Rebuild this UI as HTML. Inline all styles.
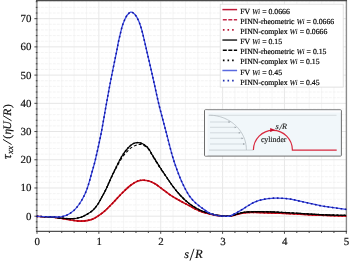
<!DOCTYPE html>
<html><head><meta charset="utf-8"><style>
html,body{margin:0;padding:0;background:#fff;}
svg{display:block;will-change:transform;}
text{font-family:"Liberation Serif",serif;text-rendering:geometricPrecision;}
</style></head><body>
<svg width="350" height="262" viewBox="0 0 350 262">
<rect x="0" y="0" width="350" height="262" fill="#fff"/>
<g><line x1="49.37" y1="0.60" x2="49.37" y2="231.40" stroke="#f0f0f0" stroke-width="0.7"/>
<line x1="61.74" y1="0.60" x2="61.74" y2="231.40" stroke="#f0f0f0" stroke-width="0.7"/>
<line x1="74.12" y1="0.60" x2="74.12" y2="231.40" stroke="#f0f0f0" stroke-width="0.7"/>
<line x1="86.49" y1="0.60" x2="86.49" y2="231.40" stroke="#f0f0f0" stroke-width="0.7"/>
<line x1="98.86" y1="0.60" x2="98.86" y2="231.40" stroke="#e2e2e2" stroke-width="0.8"/>
<line x1="111.23" y1="0.60" x2="111.23" y2="231.40" stroke="#f0f0f0" stroke-width="0.7"/>
<line x1="123.60" y1="0.60" x2="123.60" y2="231.40" stroke="#f0f0f0" stroke-width="0.7"/>
<line x1="135.98" y1="0.60" x2="135.98" y2="231.40" stroke="#f0f0f0" stroke-width="0.7"/>
<line x1="148.35" y1="0.60" x2="148.35" y2="231.40" stroke="#f0f0f0" stroke-width="0.7"/>
<line x1="160.72" y1="0.60" x2="160.72" y2="231.40" stroke="#e2e2e2" stroke-width="0.8"/>
<line x1="173.09" y1="0.60" x2="173.09" y2="231.40" stroke="#f0f0f0" stroke-width="0.7"/>
<line x1="185.46" y1="0.60" x2="185.46" y2="231.40" stroke="#f0f0f0" stroke-width="0.7"/>
<line x1="197.84" y1="0.60" x2="197.84" y2="231.40" stroke="#f0f0f0" stroke-width="0.7"/>
<line x1="210.21" y1="0.60" x2="210.21" y2="231.40" stroke="#f0f0f0" stroke-width="0.7"/>
<line x1="222.58" y1="0.60" x2="222.58" y2="231.40" stroke="#e2e2e2" stroke-width="0.8"/>
<line x1="234.95" y1="0.60" x2="234.95" y2="231.40" stroke="#f0f0f0" stroke-width="0.7"/>
<line x1="247.32" y1="0.60" x2="247.32" y2="231.40" stroke="#f0f0f0" stroke-width="0.7"/>
<line x1="259.70" y1="0.60" x2="259.70" y2="231.40" stroke="#f0f0f0" stroke-width="0.7"/>
<line x1="272.07" y1="0.60" x2="272.07" y2="231.40" stroke="#f0f0f0" stroke-width="0.7"/>
<line x1="284.44" y1="0.60" x2="284.44" y2="231.40" stroke="#e2e2e2" stroke-width="0.8"/>
<line x1="296.81" y1="0.60" x2="296.81" y2="231.40" stroke="#f0f0f0" stroke-width="0.7"/>
<line x1="309.18" y1="0.60" x2="309.18" y2="231.40" stroke="#f0f0f0" stroke-width="0.7"/>
<line x1="321.56" y1="0.60" x2="321.56" y2="231.40" stroke="#f0f0f0" stroke-width="0.7"/>
<line x1="333.93" y1="0.60" x2="333.93" y2="231.40" stroke="#f0f0f0" stroke-width="0.7"/>
<line x1="36.80" y1="227.49" x2="346.70" y2="227.49" stroke="#efefef" stroke-width="0.7" stroke-dasharray="3 1"/>
<line x1="36.80" y1="221.84" x2="346.70" y2="221.84" stroke="#efefef" stroke-width="0.7" stroke-dasharray="3 1"/>
<line x1="36.80" y1="216.20" x2="346.70" y2="216.20" stroke="#e6e6e6" stroke-width="1"/>
<line x1="36.80" y1="210.56" x2="346.70" y2="210.56" stroke="#efefef" stroke-width="0.7" stroke-dasharray="3 1"/>
<line x1="36.80" y1="204.91" x2="346.70" y2="204.91" stroke="#efefef" stroke-width="0.7" stroke-dasharray="3 1"/>
<line x1="36.80" y1="199.27" x2="346.70" y2="199.27" stroke="#efefef" stroke-width="0.7" stroke-dasharray="3 1"/>
<line x1="36.80" y1="193.62" x2="346.70" y2="193.62" stroke="#efefef" stroke-width="0.7" stroke-dasharray="3 1"/>
<line x1="36.80" y1="187.98" x2="346.70" y2="187.98" stroke="#e6e6e6" stroke-width="1"/>
<line x1="36.80" y1="182.34" x2="346.70" y2="182.34" stroke="#efefef" stroke-width="0.7" stroke-dasharray="3 1"/>
<line x1="36.80" y1="176.69" x2="346.70" y2="176.69" stroke="#efefef" stroke-width="0.7" stroke-dasharray="3 1"/>
<line x1="36.80" y1="171.05" x2="346.70" y2="171.05" stroke="#efefef" stroke-width="0.7" stroke-dasharray="3 1"/>
<line x1="36.80" y1="165.40" x2="346.70" y2="165.40" stroke="#efefef" stroke-width="0.7" stroke-dasharray="3 1"/>
<line x1="36.80" y1="159.76" x2="346.70" y2="159.76" stroke="#e6e6e6" stroke-width="1"/>
<line x1="36.80" y1="154.12" x2="346.70" y2="154.12" stroke="#efefef" stroke-width="0.7" stroke-dasharray="3 1"/>
<line x1="36.80" y1="148.47" x2="346.70" y2="148.47" stroke="#efefef" stroke-width="0.7" stroke-dasharray="3 1"/>
<line x1="36.80" y1="142.83" x2="346.70" y2="142.83" stroke="#efefef" stroke-width="0.7" stroke-dasharray="3 1"/>
<line x1="36.80" y1="137.18" x2="346.70" y2="137.18" stroke="#efefef" stroke-width="0.7" stroke-dasharray="3 1"/>
<line x1="36.80" y1="131.54" x2="346.70" y2="131.54" stroke="#e6e6e6" stroke-width="1"/>
<line x1="36.80" y1="125.90" x2="346.70" y2="125.90" stroke="#efefef" stroke-width="0.7" stroke-dasharray="3 1"/>
<line x1="36.80" y1="120.25" x2="346.70" y2="120.25" stroke="#efefef" stroke-width="0.7" stroke-dasharray="3 1"/>
<line x1="36.80" y1="114.61" x2="346.70" y2="114.61" stroke="#efefef" stroke-width="0.7" stroke-dasharray="3 1"/>
<line x1="36.80" y1="108.96" x2="346.70" y2="108.96" stroke="#efefef" stroke-width="0.7" stroke-dasharray="3 1"/>
<line x1="36.80" y1="103.32" x2="346.70" y2="103.32" stroke="#e6e6e6" stroke-width="1"/>
<line x1="36.80" y1="97.68" x2="346.70" y2="97.68" stroke="#efefef" stroke-width="0.7" stroke-dasharray="3 1"/>
<line x1="36.80" y1="92.03" x2="346.70" y2="92.03" stroke="#efefef" stroke-width="0.7" stroke-dasharray="3 1"/>
<line x1="36.80" y1="86.39" x2="346.70" y2="86.39" stroke="#efefef" stroke-width="0.7" stroke-dasharray="3 1"/>
<line x1="36.80" y1="80.74" x2="346.70" y2="80.74" stroke="#efefef" stroke-width="0.7" stroke-dasharray="3 1"/>
<line x1="36.80" y1="75.10" x2="346.70" y2="75.10" stroke="#e6e6e6" stroke-width="1"/>
<line x1="36.80" y1="69.46" x2="346.70" y2="69.46" stroke="#efefef" stroke-width="0.7" stroke-dasharray="3 1"/>
<line x1="36.80" y1="63.81" x2="346.70" y2="63.81" stroke="#efefef" stroke-width="0.7" stroke-dasharray="3 1"/>
<line x1="36.80" y1="58.17" x2="346.70" y2="58.17" stroke="#efefef" stroke-width="0.7" stroke-dasharray="3 1"/>
<line x1="36.80" y1="52.52" x2="346.70" y2="52.52" stroke="#efefef" stroke-width="0.7" stroke-dasharray="3 1"/>
<line x1="36.80" y1="46.88" x2="346.70" y2="46.88" stroke="#e6e6e6" stroke-width="1"/>
<line x1="36.80" y1="41.24" x2="346.70" y2="41.24" stroke="#efefef" stroke-width="0.7" stroke-dasharray="3 1"/>
<line x1="36.80" y1="35.59" x2="346.70" y2="35.59" stroke="#efefef" stroke-width="0.7" stroke-dasharray="3 1"/>
<line x1="36.80" y1="29.95" x2="346.70" y2="29.95" stroke="#efefef" stroke-width="0.7" stroke-dasharray="3 1"/>
<line x1="36.80" y1="24.30" x2="346.70" y2="24.30" stroke="#efefef" stroke-width="0.7" stroke-dasharray="3 1"/>
<line x1="36.80" y1="18.66" x2="346.70" y2="18.66" stroke="#e6e6e6" stroke-width="1"/>
<line x1="36.80" y1="13.02" x2="346.70" y2="13.02" stroke="#efefef" stroke-width="0.7" stroke-dasharray="3 1"/>
<line x1="36.80" y1="7.37" x2="346.70" y2="7.37" stroke="#efefef" stroke-width="0.7" stroke-dasharray="3 1"/>
<line x1="36.80" y1="1.73" x2="346.70" y2="1.73" stroke="#efefef" stroke-width="0.7" stroke-dasharray="3 1"/></g>
<line x1="36.8" y1="0" x2="36.8" y2="232" stroke="#9a9a9a" stroke-width="1.8"/>
<line x1="346.4" y1="0" x2="346.4" y2="232" stroke="#8c8c8c" stroke-width="1.4"/>
<line x1="36" y1="0.60" x2="347" y2="0.60" stroke="#4a4a4a" stroke-width="1.1"/>
<line x1="36" y1="231.40" x2="347" y2="231.40" stroke="#505050" stroke-width="1.3"/>
<g stroke="#333" stroke-width="0.9"><line x1="37.00" y1="231.40" x2="37.00" y2="233.80"/>
<line x1="49.37" y1="231.40" x2="49.37" y2="233.00"/>
<line x1="61.74" y1="231.40" x2="61.74" y2="233.00"/>
<line x1="74.12" y1="231.40" x2="74.12" y2="233.00"/>
<line x1="86.49" y1="231.40" x2="86.49" y2="233.00"/>
<line x1="98.86" y1="231.40" x2="98.86" y2="233.80"/>
<line x1="111.23" y1="231.40" x2="111.23" y2="233.00"/>
<line x1="123.60" y1="231.40" x2="123.60" y2="233.00"/>
<line x1="135.98" y1="231.40" x2="135.98" y2="233.00"/>
<line x1="148.35" y1="231.40" x2="148.35" y2="233.00"/>
<line x1="160.72" y1="231.40" x2="160.72" y2="233.80"/>
<line x1="173.09" y1="231.40" x2="173.09" y2="233.00"/>
<line x1="185.46" y1="231.40" x2="185.46" y2="233.00"/>
<line x1="197.84" y1="231.40" x2="197.84" y2="233.00"/>
<line x1="210.21" y1="231.40" x2="210.21" y2="233.00"/>
<line x1="222.58" y1="231.40" x2="222.58" y2="233.80"/>
<line x1="234.95" y1="231.40" x2="234.95" y2="233.00"/>
<line x1="247.32" y1="231.40" x2="247.32" y2="233.00"/>
<line x1="259.70" y1="231.40" x2="259.70" y2="233.00"/>
<line x1="272.07" y1="231.40" x2="272.07" y2="233.00"/>
<line x1="284.44" y1="231.40" x2="284.44" y2="233.80"/>
<line x1="296.81" y1="231.40" x2="296.81" y2="233.00"/>
<line x1="309.18" y1="231.40" x2="309.18" y2="233.00"/>
<line x1="321.56" y1="231.40" x2="321.56" y2="233.00"/>
<line x1="333.93" y1="231.40" x2="333.93" y2="233.00"/>
<line x1="346.30" y1="231.40" x2="346.30" y2="233.80"/>
<line x1="37.40" y1="227.49" x2="35.80" y2="227.49"/>
<line x1="37.40" y1="221.84" x2="35.80" y2="221.84"/>
<line x1="37.40" y1="216.20" x2="34.40" y2="216.20"/>
<line x1="37.40" y1="210.56" x2="35.80" y2="210.56"/>
<line x1="37.40" y1="204.91" x2="35.80" y2="204.91"/>
<line x1="37.40" y1="199.27" x2="35.80" y2="199.27"/>
<line x1="37.40" y1="193.62" x2="35.80" y2="193.62"/>
<line x1="37.40" y1="187.98" x2="34.40" y2="187.98"/>
<line x1="37.40" y1="182.34" x2="35.80" y2="182.34"/>
<line x1="37.40" y1="176.69" x2="35.80" y2="176.69"/>
<line x1="37.40" y1="171.05" x2="35.80" y2="171.05"/>
<line x1="37.40" y1="165.40" x2="35.80" y2="165.40"/>
<line x1="37.40" y1="159.76" x2="34.40" y2="159.76"/>
<line x1="37.40" y1="154.12" x2="35.80" y2="154.12"/>
<line x1="37.40" y1="148.47" x2="35.80" y2="148.47"/>
<line x1="37.40" y1="142.83" x2="35.80" y2="142.83"/>
<line x1="37.40" y1="137.18" x2="35.80" y2="137.18"/>
<line x1="37.40" y1="131.54" x2="34.40" y2="131.54"/>
<line x1="37.40" y1="125.90" x2="35.80" y2="125.90"/>
<line x1="37.40" y1="120.25" x2="35.80" y2="120.25"/>
<line x1="37.40" y1="114.61" x2="35.80" y2="114.61"/>
<line x1="37.40" y1="108.96" x2="35.80" y2="108.96"/>
<line x1="37.40" y1="103.32" x2="34.40" y2="103.32"/>
<line x1="37.40" y1="97.68" x2="35.80" y2="97.68"/>
<line x1="37.40" y1="92.03" x2="35.80" y2="92.03"/>
<line x1="37.40" y1="86.39" x2="35.80" y2="86.39"/>
<line x1="37.40" y1="80.74" x2="35.80" y2="80.74"/>
<line x1="37.40" y1="75.10" x2="34.40" y2="75.10"/>
<line x1="37.40" y1="69.46" x2="35.80" y2="69.46"/>
<line x1="37.40" y1="63.81" x2="35.80" y2="63.81"/>
<line x1="37.40" y1="58.17" x2="35.80" y2="58.17"/>
<line x1="37.40" y1="52.52" x2="35.80" y2="52.52"/>
<line x1="37.40" y1="46.88" x2="34.40" y2="46.88"/>
<line x1="37.40" y1="41.24" x2="35.80" y2="41.24"/>
<line x1="37.40" y1="35.59" x2="35.80" y2="35.59"/>
<line x1="37.40" y1="29.95" x2="35.80" y2="29.95"/>
<line x1="37.40" y1="24.30" x2="35.80" y2="24.30"/>
<line x1="37.40" y1="18.66" x2="34.40" y2="18.66"/>
<line x1="37.40" y1="13.02" x2="35.80" y2="13.02"/>
<line x1="37.40" y1="7.37" x2="35.80" y2="7.37"/>
<line x1="37.40" y1="1.73" x2="35.80" y2="1.73"/></g>
<g><path d="M37.00 216.40C39.00 216.48 45.67 216.70 49.00 216.90C52.33 217.10 54.67 217.32 57.00 217.60C59.33 217.88 61.00 218.27 63.00 218.60C65.00 218.93 67.00 219.27 69.00 219.60C71.00 219.93 73.00 220.35 75.00 220.60C77.00 220.85 79.00 221.10 81.00 221.10C83.00 221.10 85.00 220.95 87.00 220.60C89.00 220.25 91.00 219.87 93.00 219.00C95.00 218.13 97.17 216.63 99.00 215.40C100.83 214.17 102.50 212.85 104.00 211.60C105.50 210.35 106.67 209.20 108.00 207.90C109.33 206.60 110.83 205.02 112.00 203.80C113.17 202.58 113.17 202.53 115.00 200.60C116.83 198.67 120.33 194.80 123.00 192.20C125.67 189.60 128.50 186.88 131.00 185.00C133.50 183.12 135.92 181.70 138.00 180.90C140.08 180.10 141.67 180.18 143.50 180.20C145.33 180.22 147.08 180.40 149.00 181.00C150.92 181.60 152.83 182.50 155.00 183.80C157.17 185.10 159.50 186.97 162.00 188.80C164.50 190.63 167.00 192.80 170.00 194.80C173.00 196.80 176.67 198.93 180.00 200.80C183.33 202.67 187.33 204.57 190.00 206.00C192.67 207.43 194.00 208.40 196.00 209.40C198.00 210.40 199.67 211.23 202.00 212.00C204.33 212.77 207.33 213.40 210.00 214.00C212.67 214.60 215.33 215.23 218.00 215.60C220.67 215.97 223.83 216.13 226.00 216.20C228.17 216.27 229.33 216.23 231.00 216.00C232.67 215.77 234.17 215.27 236.00 214.80C237.83 214.33 239.67 213.60 242.00 213.20C244.33 212.80 247.00 212.50 250.00 212.40C253.00 212.30 255.00 212.47 260.00 212.60C265.00 212.73 273.33 212.93 280.00 213.20C286.67 213.47 293.33 213.85 300.00 214.20C306.67 214.55 312.33 215.00 320.00 215.30C327.67 215.60 341.67 215.88 346.00 216.00" fill="none" stroke="#d8121e" stroke-width="1.6" stroke-linejoin="round" />
<path d="M37.00 216.40C39.00 216.48 45.67 216.70 49.00 216.90C52.33 217.10 54.67 217.32 57.00 217.60C59.33 217.88 61.00 218.27 63.00 218.60C65.00 218.93 67.00 219.27 69.00 219.60C71.00 219.93 73.00 220.35 75.00 220.60C77.00 220.85 79.00 221.10 81.00 221.10C83.00 221.10 85.00 220.95 87.00 220.60C89.00 220.25 91.00 219.87 93.00 219.00C95.00 218.13 97.17 216.63 99.00 215.40C100.83 214.17 102.50 212.85 104.00 211.60C105.50 210.35 106.67 209.20 108.00 207.90C109.33 206.60 110.83 205.02 112.00 203.80C113.17 202.58 113.17 202.53 115.00 200.60C116.83 198.67 120.33 194.80 123.00 192.20C125.67 189.60 128.50 186.88 131.00 185.00C133.50 183.12 135.92 181.70 138.00 180.90C140.08 180.10 141.67 180.18 143.50 180.20C145.33 180.22 147.08 180.40 149.00 181.00C150.92 181.60 152.83 182.50 155.00 183.80C157.17 185.10 159.50 186.97 162.00 188.80C164.50 190.63 167.00 192.80 170.00 194.80C173.00 196.80 176.67 198.93 180.00 200.80C183.33 202.67 187.33 204.57 190.00 206.00C192.67 207.43 194.00 208.40 196.00 209.40C198.00 210.40 199.67 211.23 202.00 212.00C204.33 212.77 207.33 213.40 210.00 214.00C212.67 214.60 215.33 215.23 218.00 215.60C220.67 215.97 223.83 216.13 226.00 216.20C228.17 216.27 229.33 216.23 231.00 216.00C232.67 215.77 234.17 215.27 236.00 214.80C237.83 214.33 239.67 213.60 242.00 213.20C244.33 212.80 247.00 212.50 250.00 212.40C253.00 212.30 255.00 212.47 260.00 212.60C265.00 212.73 273.33 212.93 280.00 213.20C286.67 213.47 293.33 213.85 300.00 214.20C306.67 214.55 312.33 215.00 320.00 215.30C327.67 215.60 341.67 215.88 346.00 216.00" fill="none" stroke="#d8121e" stroke-width="1.2" stroke-dasharray="3 2" stroke-linejoin="round" />
<path d="M37.00 216.40C39.00 216.48 45.67 216.70 49.00 216.90C52.33 217.10 54.67 217.32 57.00 217.60C59.33 217.88 61.00 218.27 63.00 218.60C65.00 218.93 67.00 219.27 69.00 219.60C71.00 219.93 73.00 220.35 75.00 220.60C77.00 220.85 79.00 221.10 81.00 221.10C83.00 221.10 85.00 220.95 87.00 220.60C89.00 220.25 91.00 219.87 93.00 219.00C95.00 218.13 97.17 216.63 99.00 215.40C100.83 214.17 102.50 212.85 104.00 211.60C105.50 210.35 106.67 209.20 108.00 207.90C109.33 206.60 110.83 205.02 112.00 203.80C113.17 202.58 113.17 202.53 115.00 200.60C116.83 198.67 120.33 194.80 123.00 192.20C125.67 189.60 128.50 186.88 131.00 185.00C133.50 183.12 135.92 181.70 138.00 180.90C140.08 180.10 141.67 180.18 143.50 180.20C145.33 180.22 147.08 180.40 149.00 181.00C150.92 181.60 152.83 182.50 155.00 183.80C157.17 185.10 159.50 186.97 162.00 188.80C164.50 190.63 167.00 192.80 170.00 194.80C173.00 196.80 176.67 198.93 180.00 200.80C183.33 202.67 187.33 204.57 190.00 206.00C192.67 207.43 194.00 208.40 196.00 209.40C198.00 210.40 199.67 211.23 202.00 212.00C204.33 212.77 207.33 213.40 210.00 214.00C212.67 214.60 215.33 215.23 218.00 215.60C220.67 215.97 223.83 216.13 226.00 216.20C228.17 216.27 229.33 216.23 231.00 216.00C232.67 215.77 234.17 215.27 236.00 214.80C237.83 214.33 239.67 213.60 242.00 213.20C244.33 212.80 247.00 212.50 250.00 212.40C253.00 212.30 255.00 212.47 260.00 212.60C265.00 212.73 273.33 212.93 280.00 213.20C286.67 213.47 293.33 213.85 300.00 214.20C306.67 214.55 312.33 215.00 320.00 215.30C327.67 215.60 341.67 215.88 346.00 216.00" fill="none" stroke="#9c0414" stroke-width="1.5" stroke-dasharray="0.5 3.2" stroke-linejoin="round" stroke-linecap="round"/>
<path d="M37.00 216.40C39.00 216.48 45.67 216.70 49.00 216.90C52.33 217.10 54.67 217.37 57.00 217.60C59.33 217.83 61.00 218.12 63.00 218.30C65.00 218.48 67.00 218.67 69.00 218.70C71.00 218.73 73.00 218.75 75.00 218.50C77.00 218.25 79.00 217.90 81.00 217.20C83.00 216.50 85.00 215.48 87.00 214.30C89.00 213.12 91.17 211.82 93.00 210.10C94.83 208.38 96.50 206.22 98.00 204.00C99.50 201.78 100.67 199.27 102.00 196.80C103.33 194.33 104.50 192.33 106.00 189.20C107.50 186.07 109.33 181.62 111.00 178.00C112.67 174.38 114.17 171.17 116.00 167.50C117.83 163.83 120.00 159.25 122.00 156.00C124.00 152.75 126.17 150.03 128.00 148.00C129.83 145.97 131.37 144.70 133.00 143.80C134.63 142.90 136.20 142.60 137.80 142.60C139.40 142.60 140.90 142.92 142.60 143.80C144.30 144.68 146.27 145.87 148.00 147.90C149.73 149.93 151.00 152.77 153.00 156.00C155.00 159.23 157.75 163.80 160.00 167.30C162.25 170.80 164.42 173.92 166.50 177.00C168.58 180.08 170.25 182.80 172.50 185.80C174.75 188.80 177.42 192.20 180.00 195.00C182.58 197.80 185.33 200.43 188.00 202.60C190.67 204.77 193.67 206.60 196.00 208.00C198.33 209.40 199.67 210.07 202.00 211.00C204.33 211.93 207.33 212.87 210.00 213.60C212.67 214.33 215.33 214.98 218.00 215.40C220.67 215.82 223.83 216.03 226.00 216.10C228.17 216.17 229.33 216.08 231.00 215.80C232.67 215.52 234.17 214.93 236.00 214.40C237.83 213.87 239.67 213.03 242.00 212.60C244.33 212.17 247.00 211.95 250.00 211.80C253.00 211.65 256.67 211.70 260.00 211.70C263.33 211.70 266.67 211.70 270.00 211.80C273.33 211.90 275.00 212.03 280.00 212.30C285.00 212.57 293.33 213.02 300.00 213.40C306.67 213.78 312.33 214.27 320.00 214.60C327.67 214.93 341.67 215.27 346.00 215.40" fill="none" stroke="#000" stroke-width="1.2" stroke-linejoin="round" />
<path d="M37.00 216.40C39.00 216.48 45.67 216.70 49.00 216.90C52.33 217.10 54.67 217.37 57.00 217.60C59.33 217.83 61.00 218.12 63.00 218.30C65.00 218.48 67.00 218.67 69.00 218.70C71.00 218.73 73.00 218.75 75.00 218.50C77.00 218.25 79.00 217.90 81.00 217.20C83.00 216.50 85.00 215.48 87.00 214.30C89.00 213.12 91.17 211.82 93.00 210.11C94.83 208.39 96.50 206.23 98.00 204.02C99.50 201.82 100.67 199.31 102.00 196.87C103.33 194.42 104.50 192.44 106.00 189.36C107.50 186.29 109.33 181.92 111.00 178.42C112.67 174.93 114.17 171.85 116.00 168.41C117.83 164.96 120.00 160.72 122.00 157.75C124.00 154.77 126.17 152.40 128.00 150.55C129.83 148.70 131.37 147.62 133.00 146.65C134.63 145.68 136.20 145.02 137.80 144.71C139.40 144.41 140.90 144.18 142.60 144.84C144.30 145.50 146.27 146.66 148.00 148.66C149.73 150.65 151.00 153.60 153.00 156.81C155.00 160.01 157.75 164.47 160.00 167.87C162.25 171.27 164.42 174.23 166.50 177.23C168.58 180.22 170.25 182.89 172.50 185.86C174.75 188.82 177.42 192.21 180.00 195.01C182.58 197.80 185.33 200.43 188.00 202.60C190.67 204.77 193.67 206.60 196.00 208.00C198.33 209.40 199.67 210.07 202.00 211.00C204.33 211.93 207.33 212.87 210.00 213.60C212.67 214.33 215.33 214.98 218.00 215.40C220.67 215.82 223.83 216.03 226.00 216.10C228.17 216.17 229.33 216.08 231.00 215.80C232.67 215.52 234.17 214.93 236.00 214.40C237.83 213.87 239.67 213.03 242.00 212.60C244.33 212.17 247.00 211.95 250.00 211.80C253.00 211.65 256.67 211.70 260.00 211.70C263.33 211.70 266.67 211.70 270.00 211.80C273.33 211.90 275.00 212.03 280.00 212.30C285.00 212.57 293.33 213.02 300.00 213.40C306.67 213.78 312.33 214.27 320.00 214.60C327.67 214.93 341.67 215.27 346.00 215.40" fill="none" stroke="#000" stroke-width="1.1" stroke-dasharray="3 2" stroke-linejoin="round" />
<path d="M37.00 216.40C39.00 216.48 45.67 216.70 49.00 216.90C52.33 217.10 54.67 217.37 57.00 217.60C59.33 217.83 61.00 218.12 63.00 218.30C65.00 218.48 67.00 218.67 69.00 218.70C71.00 218.73 73.00 218.75 75.00 218.50C77.00 218.25 79.00 217.90 81.00 217.20C83.00 216.50 85.00 215.48 87.00 214.30C89.00 213.12 91.17 211.82 93.00 210.10C94.83 208.38 96.50 206.22 98.00 204.00C99.50 201.78 100.67 199.27 102.00 196.80C103.33 194.33 104.50 192.33 106.00 189.20C107.50 186.07 109.33 181.62 111.00 178.00C112.67 174.38 114.17 171.17 116.00 167.50C117.83 163.83 120.00 159.25 122.00 156.00C124.00 152.75 126.17 150.03 128.00 148.00C129.83 145.97 131.37 144.70 133.00 143.80C134.63 142.90 136.20 142.60 137.80 142.60C139.40 142.60 140.90 142.92 142.60 143.80C144.30 144.68 146.27 145.87 148.00 147.90C149.73 149.93 151.00 152.77 153.00 156.00C155.00 159.23 157.75 163.80 160.00 167.30C162.25 170.80 164.42 173.92 166.50 177.00C168.58 180.08 170.25 182.80 172.50 185.80C174.75 188.80 177.42 192.20 180.00 195.00C182.58 197.80 185.33 200.43 188.00 202.60C190.67 204.77 193.67 206.60 196.00 208.00C198.33 209.40 199.67 210.07 202.00 211.00C204.33 211.93 207.33 212.87 210.00 213.60C212.67 214.33 215.33 214.98 218.00 215.40C220.67 215.82 223.83 216.03 226.00 216.10C228.17 216.17 229.33 216.08 231.00 215.80C232.67 215.52 234.17 214.93 236.00 214.40C237.83 213.87 239.67 213.03 242.00 212.60C244.33 212.17 247.00 211.95 250.00 211.80C253.00 211.65 256.67 211.70 260.00 211.70C263.33 211.70 266.67 211.70 270.00 211.80C273.33 211.90 275.00 212.03 280.00 212.30C285.00 212.57 293.33 213.02 300.00 213.40C306.67 213.78 312.33 214.27 320.00 214.60C327.67 214.93 341.67 215.27 346.00 215.40" fill="none" stroke="#000" stroke-width="1.5" stroke-dasharray="0.5 3.2" stroke-linejoin="round" stroke-linecap="round"/>
<path d="M37.00 216.40C39.00 216.47 45.67 216.70 49.00 216.80C52.33 216.90 54.67 217.07 57.00 217.00C59.33 216.93 61.00 216.90 63.00 216.40C65.00 215.90 67.00 215.17 69.00 214.00C71.00 212.83 73.17 211.23 75.00 209.40C76.83 207.57 78.50 205.23 80.00 203.00C81.50 200.77 82.83 198.33 84.00 196.00C85.17 193.67 86.08 191.50 87.00 189.00C87.92 186.50 88.67 183.83 89.50 181.00C90.33 178.17 91.03 175.50 92.00 172.00C92.97 168.50 93.80 166.33 95.30 160.00C96.80 153.67 99.22 143.00 101.00 134.00C102.78 125.00 104.33 115.17 106.00 106.00C107.67 96.83 109.25 88.00 111.00 79.00C112.75 70.00 115.27 58.17 116.50 52.00C117.73 45.83 117.77 45.00 118.40 42.00C119.03 39.00 119.65 36.67 120.30 34.00C120.95 31.33 121.55 28.42 122.30 26.00C123.05 23.58 123.97 21.33 124.80 19.50C125.63 17.67 126.33 16.22 127.30 15.00C128.27 13.78 129.50 12.47 130.60 12.20C131.70 11.93 132.87 12.57 133.90 13.40C134.93 14.23 135.83 15.52 136.80 17.20C137.77 18.88 138.78 21.03 139.70 23.50C140.62 25.97 141.47 28.92 142.30 32.00C143.13 35.08 143.92 38.67 144.70 42.00C145.48 45.33 145.62 46.00 147.00 52.00C148.38 58.00 151.03 69.33 153.00 78.00C154.97 86.67 156.70 95.33 158.80 104.00C160.90 112.67 163.33 121.33 165.60 130.00C167.87 138.67 170.37 149.00 172.40 156.00C174.43 163.00 176.07 167.33 177.80 172.00C179.53 176.67 180.93 180.10 182.80 184.00C184.67 187.90 186.97 192.33 189.00 195.40C191.03 198.47 192.83 200.30 195.00 202.40C197.17 204.50 199.50 206.17 202.00 208.00C204.50 209.83 207.33 212.13 210.00 213.40C212.67 214.67 215.67 215.13 218.00 215.60C220.33 216.07 222.00 216.13 224.00 216.20C226.00 216.27 228.00 216.53 230.00 216.00C232.00 215.47 234.00 214.07 236.00 213.00C238.00 211.93 240.00 210.80 242.00 209.60C244.00 208.40 246.00 207.00 248.00 205.80C250.00 204.60 252.00 203.33 254.00 202.40C256.00 201.47 257.67 200.83 260.00 200.20C262.33 199.57 265.33 198.95 268.00 198.60C270.67 198.25 273.33 198.13 276.00 198.10C278.67 198.07 281.33 198.20 284.00 198.40C286.67 198.60 289.33 198.83 292.00 199.30C294.67 199.77 297.00 200.52 300.00 201.20C303.00 201.88 306.67 202.67 310.00 203.40C313.33 204.13 316.67 204.97 320.00 205.60C323.33 206.23 325.67 206.57 330.00 207.20C334.33 207.83 343.33 209.03 346.00 209.40" fill="none" stroke="#3a4ee6" stroke-width="1.3" stroke-linejoin="round" />
<path d="M37.00 216.40C39.00 216.47 45.67 216.70 49.00 216.80C52.33 216.90 54.67 217.07 57.00 217.00C59.33 216.93 61.00 216.90 63.00 216.40C65.00 215.90 67.00 215.17 69.00 214.00C71.00 212.83 73.17 211.23 75.00 209.40C76.83 207.57 78.50 205.23 80.00 203.00C81.50 200.77 82.83 198.33 84.00 196.00C85.17 193.67 86.08 191.50 87.00 189.00C87.92 186.50 88.67 183.83 89.50 181.00C90.33 178.17 91.03 175.50 92.00 172.00C92.97 168.50 93.80 166.33 95.30 160.00C96.80 153.67 99.22 143.00 101.00 134.00C102.78 125.00 104.33 115.17 106.00 106.00C107.67 96.83 109.25 88.00 111.00 79.00C112.75 70.00 115.27 58.17 116.50 52.00C117.73 45.83 117.77 45.00 118.40 42.00C119.03 39.00 119.65 36.67 120.30 34.00C120.95 31.33 121.55 28.42 122.30 26.00C123.05 23.58 123.97 21.33 124.80 19.50C125.63 17.67 126.33 16.22 127.30 15.00C128.27 13.78 129.50 12.47 130.60 12.20C131.70 11.93 132.87 12.57 133.90 13.40C134.93 14.23 135.83 15.52 136.80 17.20C137.77 18.88 138.78 21.03 139.70 23.50C140.62 25.97 141.47 28.92 142.30 32.00C143.13 35.08 143.92 38.67 144.70 42.00C145.48 45.33 145.62 46.00 147.00 52.00C148.38 58.00 151.03 69.33 153.00 78.00C154.97 86.67 156.70 95.33 158.80 104.00C160.90 112.67 163.33 121.33 165.60 130.00C167.87 138.67 170.37 149.00 172.40 156.00C174.43 163.00 176.07 167.33 177.80 172.00C179.53 176.67 180.93 180.10 182.80 184.00C184.67 187.90 186.97 192.33 189.00 195.40C191.03 198.47 192.83 200.30 195.00 202.40C197.17 204.50 199.50 206.17 202.00 208.00C204.50 209.83 207.33 212.13 210.00 213.40C212.67 214.67 215.67 215.13 218.00 215.60C220.33 216.07 222.00 216.13 224.00 216.20C226.00 216.27 228.00 216.53 230.00 216.00C232.00 215.47 234.00 214.07 236.00 213.00C238.00 211.93 240.00 210.80 242.00 209.60C244.00 208.40 246.00 207.00 248.00 205.80C250.00 204.60 252.00 203.33 254.00 202.40C256.00 201.47 257.67 200.83 260.00 200.20C262.33 199.57 265.33 198.95 268.00 198.60C270.67 198.25 273.33 198.13 276.00 198.10C278.67 198.07 281.33 198.20 284.00 198.40C286.67 198.60 289.33 198.83 292.00 199.30C294.67 199.77 297.00 200.52 300.00 201.20C303.00 201.88 306.67 202.67 310.00 203.40C313.33 204.13 316.67 204.97 320.00 205.60C323.33 206.23 325.67 206.57 330.00 207.20C334.33 207.83 343.33 209.03 346.00 209.40" fill="none" stroke="#1818a0" stroke-width="1.6" stroke-dasharray="0.5 3.8" stroke-linejoin="round" stroke-linecap="round"/></g>
<g font-size="10.9" fill="#111" stroke="#111" stroke-width="0.2"><text x="37.30" y="245.2" text-anchor="middle">0</text>
<text x="99.16" y="245.2" text-anchor="middle">1</text>
<text x="161.02" y="245.2" text-anchor="middle">2</text>
<text x="222.88" y="245.2" text-anchor="middle">3</text>
<text x="284.74" y="245.2" text-anchor="middle">4</text>
<text x="346.60" y="245.2" text-anchor="middle">5</text>
<text x="31.4" y="219.70" text-anchor="end">0</text>
<text x="31.4" y="191.48" text-anchor="end">10</text>
<text x="31.4" y="163.26" text-anchor="end">20</text>
<text x="31.4" y="135.04" text-anchor="end">30</text>
<text x="31.4" y="106.82" text-anchor="end">40</text>
<text x="31.4" y="78.60" text-anchor="end">50</text>
<text x="31.4" y="50.38" text-anchor="end">60</text>
<text x="31.4" y="22.16" text-anchor="end">70</text></g>
<text y="258.2" font-size="12.4" fill="#111" stroke="#111" stroke-width="0.2"><tspan x="184.3" font-size="12" font-style="italic">s</tspan><tspan x="195.0" font-size="12.6" font-style="italic">R</tspan></text>
<line x1="194.0" y1="248.8" x2="190.0" y2="260.6" stroke="#111" stroke-width="0.95"/>
<text transform="translate(10.7 0) rotate(-90)" font-size="11.4" fill="#111" stroke="#111" stroke-width="0.22"><tspan x="-159.0" y="0" font-size="13" font-style="italic">τ</tspan><tspan x="-153.9" y="2.6" font-size="8.8" font-style="italic">xx</tspan><tspan x="-138.8" y="0">(</tspan><tspan x="-134.6" y="0" font-style="italic">η</tspan><tspan x="-129.4" y="0" font-style="italic">U</tspan><tspan x="-115.8" y="0" font-style="italic">R</tspan><tspan x="-108" y="0">)</tspan></text>
<line x1="3.0" y1="139.4" x2="11.6" y2="144.6" stroke="#111" stroke-width="0.95"/>
<line x1="3.0" y1="115.6" x2="11.6" y2="120.8" stroke="#111" stroke-width="0.95"/>
<rect x="220.2" y="4.2" width="123" height="82.9" fill="#fff" stroke="#dadada" stroke-width="0.8"/>
<g font-size="7.75" fill="#000" stroke="#000" stroke-width="0.18"><line x1="222.4" y1="9.60" x2="237.1" y2="9.60" stroke="#c01838" stroke-width="1.5"/>
<text x="240.3" y="13.80">FV <tspan font-style="italic" stroke-width="0.05">Wi</tspan> = 0.0666</text>
<line x1="222.8" y1="19.75" x2="237.1" y2="19.75" stroke="#c42a4a" stroke-width="1.6" stroke-dasharray="4 1.5"/>
<text x="240.3" y="23.92">PINN-rheometric <tspan font-style="italic" stroke-width="0.05">Wi</tspan> = 0.0666</text>
<line x1="222.9" y1="29.90" x2="236.0" y2="29.90" stroke="#b81838" stroke-width="1.8" stroke-dasharray="1.6 3"/>
<text x="240.3" y="34.04">PINN-complex <tspan font-style="italic" stroke-width="0.05">Wi</tspan> = 0.0666</text>
<line x1="222.4" y1="40.05" x2="237.1" y2="40.05" stroke="#222" stroke-width="1.5"/>
<text x="240.3" y="44.16">FV <tspan font-style="italic" stroke-width="0.05">Wi</tspan> = 0.15</text>
<line x1="222.8" y1="50.20" x2="237.1" y2="50.20" stroke="#000" stroke-width="1.6" stroke-dasharray="4 1.5"/>
<text x="240.3" y="54.28">PINN-rheometric <tspan font-style="italic" stroke-width="0.05">Wi</tspan> = 0.15</text>
<line x1="222.9" y1="60.35" x2="236.0" y2="60.35" stroke="#000" stroke-width="1.8" stroke-dasharray="1.6 3"/>
<text x="240.3" y="64.40">PINN-complex <tspan font-style="italic" stroke-width="0.05">Wi</tspan> = 0.15</text>
<line x1="222.4" y1="70.50" x2="237.1" y2="70.50" stroke="#5a6ae0" stroke-width="1.5"/>
<text x="240.3" y="74.52">FV <tspan font-style="italic" stroke-width="0.05">Wi</tspan> = 0.45</text>
<line x1="222.9" y1="80.65" x2="236.0" y2="80.65" stroke="#2030b0" stroke-width="1.8" stroke-dasharray="1.6 3"/>
<text x="240.3" y="84.64">PINN-complex <tspan font-style="italic" stroke-width="0.05">Wi</tspan> = 0.45</text></g>
<g><rect x="204.5" y="109.8" width="136.9" height="46.3" rx="0.8" fill="#f1f7fa" stroke="#6e6e6e" stroke-width="1"/>
<rect x="205.2" y="110.5" width="135.5" height="2" fill="#fbfcfd"/>
<rect x="205.2" y="110.5" width="2.3" height="45" fill="#fbfcfd"/>
<line x1="208.5" y1="115.3" x2="336.5" y2="115.3" stroke="#cfd5d9" stroke-width="0.8"/>
<path d="M209.20 115.20 L210.66 115.23 L212.12 115.31 L213.57 115.44 L215.02 115.63 L216.46 115.87 L217.88 116.16 L219.30 116.51 L220.70 116.90 L222.08 117.35 L223.44 117.85 L224.77 118.40 L226.09 118.99 L227.38 119.64 L228.64 120.33 L229.87 121.06 L231.07 121.85 L232.23 122.67 L233.36 123.54 L234.45 124.45 L235.50 125.39 L236.52 126.38 L237.49 127.40 L238.41 128.46 L239.30 129.55 L240.13 130.67 L240.92 131.82 L241.66 133.00 L242.35 134.20 L242.98 135.43 L243.57 136.68 L244.10 137.96 L244.58 139.25 L245.00 140.55 L245.37 141.88 L245.69 143.21 L245.94 144.56 L246.14 145.91 L246.29 147.27 L246.37 148.63 L246.40 150.00" fill="none" stroke="#b4bbc0" stroke-width="0.8"/>
<line x1="210" y1="122.00" x2="230.09" y2="122.00" stroke="#cad2d7" stroke-width="0.8"/>
<path d="M230.49 122.00 l-2 -0.9 v1.8 z" fill="#9aa2a8"/>
<line x1="210" y1="127.30" x2="236.20" y2="127.30" stroke="#cad2d7" stroke-width="0.8"/>
<path d="M236.60 127.30 l-2 -0.9 v1.8 z" fill="#9aa2a8"/>
<line x1="210" y1="132.80" x2="240.34" y2="132.80" stroke="#cad2d7" stroke-width="0.8"/>
<path d="M240.74 132.80 l-2 -0.9 v1.8 z" fill="#9aa2a8"/>
<line x1="210" y1="138.30" x2="243.03" y2="138.30" stroke="#cad2d7" stroke-width="0.8"/>
<path d="M243.43 138.30 l-2 -0.9 v1.8 z" fill="#9aa2a8"/>
<line x1="210" y1="144.00" x2="244.64" y2="144.00" stroke="#cad2d7" stroke-width="0.8"/>
<path d="M245.04 144.00 l-2 -0.9 v1.8 z" fill="#9aa2a8"/>
<line x1="209" y1="150.1" x2="253.4" y2="150.1" stroke="#c0c8cd" stroke-width="0.8"/>
<path d="M253.4 150.1 A19.5 19.8 0 0 1 292.4 150.1 L336.7 150.1" fill="none" stroke="#d8283e" stroke-width="1.2"/>
<path d="M270.2 128.1 L275.3 130.1 L270.2 132.1 Z" fill="#c8102e"/>
<text y="128.7" font-size="8.2" fill="#222" stroke="#222" stroke-width="0.15"><tspan x="275.6" font-style="italic">s</tspan><tspan x="282.0" font-style="italic">R</tspan></text>
<line x1="282.4" y1="124.2" x2="279.1" y2="130.3" stroke="#222" stroke-width="0.7"/>
<text x="260.9" y="141.8" font-size="7.8" fill="#222" stroke="#222" stroke-width="0.15">cylinder</text></g>
</svg>
</body></html>
